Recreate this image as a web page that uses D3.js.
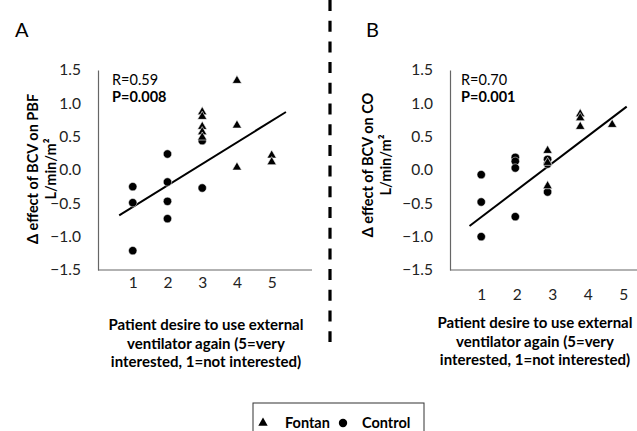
<!DOCTYPE html>
<html>
<head>
<meta charset="utf-8">
<script src="https://cdn.jsdelivr.net/npm/d3@7"></script>
<style>
  body { margin: 0; background: #fff; }
  svg { font-family: Lato, "Open Sans", sans-serif; }
</style>
</head>
<body>
<script>
// tick values shared by both panels
var xTicks = [1, 2, 3, 4, 5];
var yTicks = [-1.5, -1.0, -0.5, 0.0, 0.5, 1.0, 1.5];

// panel A: effect on PBF
var pbfControlX = [1, 1, 1, 2, 2, 2, 2, 3, 3];
var pbfControlY = [-0.25, -0.49, -1.21, 0.24, -0.18, -0.47, -0.73, -0.27, 0.44];
var pbfFontanX = [3, 3, 3, 3, 3, 4, 4, 4, 5, 5];
var pbfFontanY = [0.87, 0.80, 0.65, 0.57, 0.49, 1.34, 0.67, 0.04, 0.22, 0.12];
var pbfFit = [[0.61, -0.68], [5.41, 0.87]];
var pbfStats = ["R=0.59", "P=0.008"];

// panel B: effect on CO
var coControlX = [1, 1, 1, 1.96, 1.96, 1.96, 1.96, 2.87, 2.87, 2.87];
var coControlY = [-0.07, -0.48, -1.0, 0.19, 0.13, 0.03, -0.7, 0.16, 0.09, -0.33];
var coFontanX = [2.87, 2.87, 2.87, 3.79, 3.79, 3.79, 4.69];
var coFontanY = [0.29, 0.11, -0.24, 0.84, 0.78, 0.65, 0.68];
var coFit = [[0.67, -0.84], [5.1, 0.95]];
var coStats = ["R=0.70", "P=0.001"];

var xTitle = ["Patient desire to use external", "ventilator again (5=very", "interested, 1=not interested)"];

var svg = d3.select("body").append("svg")
    .attr("width", 637)
    .attr("height", 431);

var triangle = d3.symbol().type(d3.symbolTriangle).size(38);

function drawPanel(p) {
  var x = d3.scaleLinear().domain(p.xDomain).range(p.xRange);
  var y = d3.scaleLinear().domain([-1.5, 1.5]).range([270, 70]);

  var g = svg.append("g");

  // y axis
  var yAxis = g.append("g")
      .attr("transform", "translate(" + p.xRange[0] + ",0)")
      .call(d3.axisLeft(y).tickValues(yTicks).tickSize(0).tickPadding(17)
            .tickFormat(d3.format(".1f")));
  yAxis.select(".domain").attr("stroke", "#666").attr("stroke-width", 1.2);
  yAxis.selectAll("text").attr("font-size", 15.5).attr("fill", "#222")
      .attr("font-family", "Lato, sans-serif");

  // x axis line
  g.append("line")
      .attr("x1", p.xRange[0]).attr("x2", p.xRange[1])
      .attr("y1", 270).attr("y2", 270)
      .attr("stroke", "#666").attr("stroke-width", 1.2);

  // x tick labels
  var xAxis = g.append("g")
      .attr("transform", "translate(0,270)")
      .call(d3.axisBottom(x).tickValues(xTicks).tickSize(0).tickPadding(p.xPad)
            .tickFormat(d3.format("d")));
  xAxis.select(".domain").remove();
  xAxis.selectAll("text").attr("font-size", 15.5).attr("fill", "#222")
      .attr("font-family", "Lato, sans-serif");

  // regression line
  g.append("path")
      .datum(p.fit)
      .attr("fill", "none")
      .attr("stroke", "#000")
      .attr("stroke-width", 2)
      .attr("d", d3.line().x(function(d) { return x(d[0]); }).y(function(d) { return y(d[1]); }));

  // control circles
  g.selectAll(".ctl")
      .data(d3.range(p.cx.length))
    .enter().append("circle")
      .attr("cx", function(i) { return x(p.cx[i]); })
      .attr("cy", function(i) { return y(p.cy[i]); })
      .attr("r", 4.2)
      .attr("fill", "#000")
      .attr("stroke", "#fff").attr("stroke-width", 0.5);

  // fontan triangles
  g.selectAll(".fon")
      .data(d3.range(p.fx.length))
    .enter().append("path")
      .attr("d", triangle)
      .attr("transform", function(i) { return "translate(" + x(p.fx[i]) + "," + y(p.fy[i]) + ")"; })
      .attr("fill", "#000")
      .attr("stroke", "#fff").attr("stroke-width", 0.6);

  // stats
  g.append("text").attr("x", p.statX).attr("y", 85)
      .attr("font-size", 14.5).text(p.stats[0]);
  g.append("text").attr("x", p.statX).attr("y", 102)
      .attr("font-size", 14.5).attr("font-weight", "bold").text(p.stats[1]);

  // y title
  var yt = g.append("text")
      .attr("transform", "translate(" + p.yTitleX + "," + p.yTitleY + ") rotate(-90)")
      .attr("text-anchor", "middle")
      .attr("font-size", 14.5)
      .attr("font-weight", "bold");
  yt.append("tspan").attr("x", 0).attr("dy", 0).text(p.yTitle);
  yt.append("tspan").attr("x", 0).attr("dy", 18).text("L/min/m\u00B2");

  // x title
  g.append("text")
      .attr("text-anchor", "middle")
      .attr("font-size", 15)
      .attr("font-weight", "bold")
    .selectAll("tspan")
      .data(xTitle)
    .enter().append("tspan")
      .attr("x", p.xTitleX)
      .attr("y", function(d, i) { return p.xTitleY + i * 18.5; })
      .text(function(d) { return d; });

  // panel letter
  svg.append("text").attr("x", p.letterX).attr("y", 37)
      .attr("font-size", 20).text(p.letter);
}

drawPanel({
  xDomain: [0, 6.16], xRange: [98, 312], xPad: 7,
  cx: pbfControlX, cy: pbfControlY, fx: pbfFontanX, fy: pbfFontanY,
  fit: pbfFit, stats: pbfStats, statX: 112,
  yTitle: "\u0394 effect of BCV on PBF", yTitleX: 38, yTitleY: 169,
  xTitleX: 206, xTitleY: 330, letter: "A", letterX: 15
});

drawPanel({
  xDomain: [0.12, 5.39], xRange: [450, 637], xPad: 19,
  cx: coControlX, cy: coControlY, fx: coFontanX, fy: coFontanY,
  fit: coFit, stats: coStats, statX: 461,
  yTitle: "\u0394 effect of BCV on CO", yTitleX: 373, yTitleY: 165,
  xTitleX: 535, xTitleY: 328, letter: "B", letterX: 366
});

// divider
svg.append("line")
    .attr("x1", 330).attr("x2", 330)
    .attr("y1", 0).attr("y2", 342)
    .attr("stroke", "#000")
    .attr("stroke-width", 3.2)
    .attr("stroke-dasharray", "11,9.7");

// legend
var legend = svg.append("g");
legend.append("rect")
    .attr("x", 253).attr("y", 403).attr("width", 171).attr("height", 40)
    .attr("fill", "none").attr("stroke", "#333").attr("stroke-width", 1);
legend.append("path").attr("d", triangle)
    .attr("transform", "translate(263,423)");
legend.append("text").attr("x", 285).attr("y", 428)
    .attr("font-size", 14.5).attr("font-weight", "bold").text("Fontan");
legend.append("circle").attr("cx", 343).attr("cy", 423).attr("r", 4.2);
legend.append("text").attr("x", 362).attr("y", 428)
    .attr("font-size", 14.5).attr("font-weight", "bold").text("Control");
</script>
</body>
</html>
